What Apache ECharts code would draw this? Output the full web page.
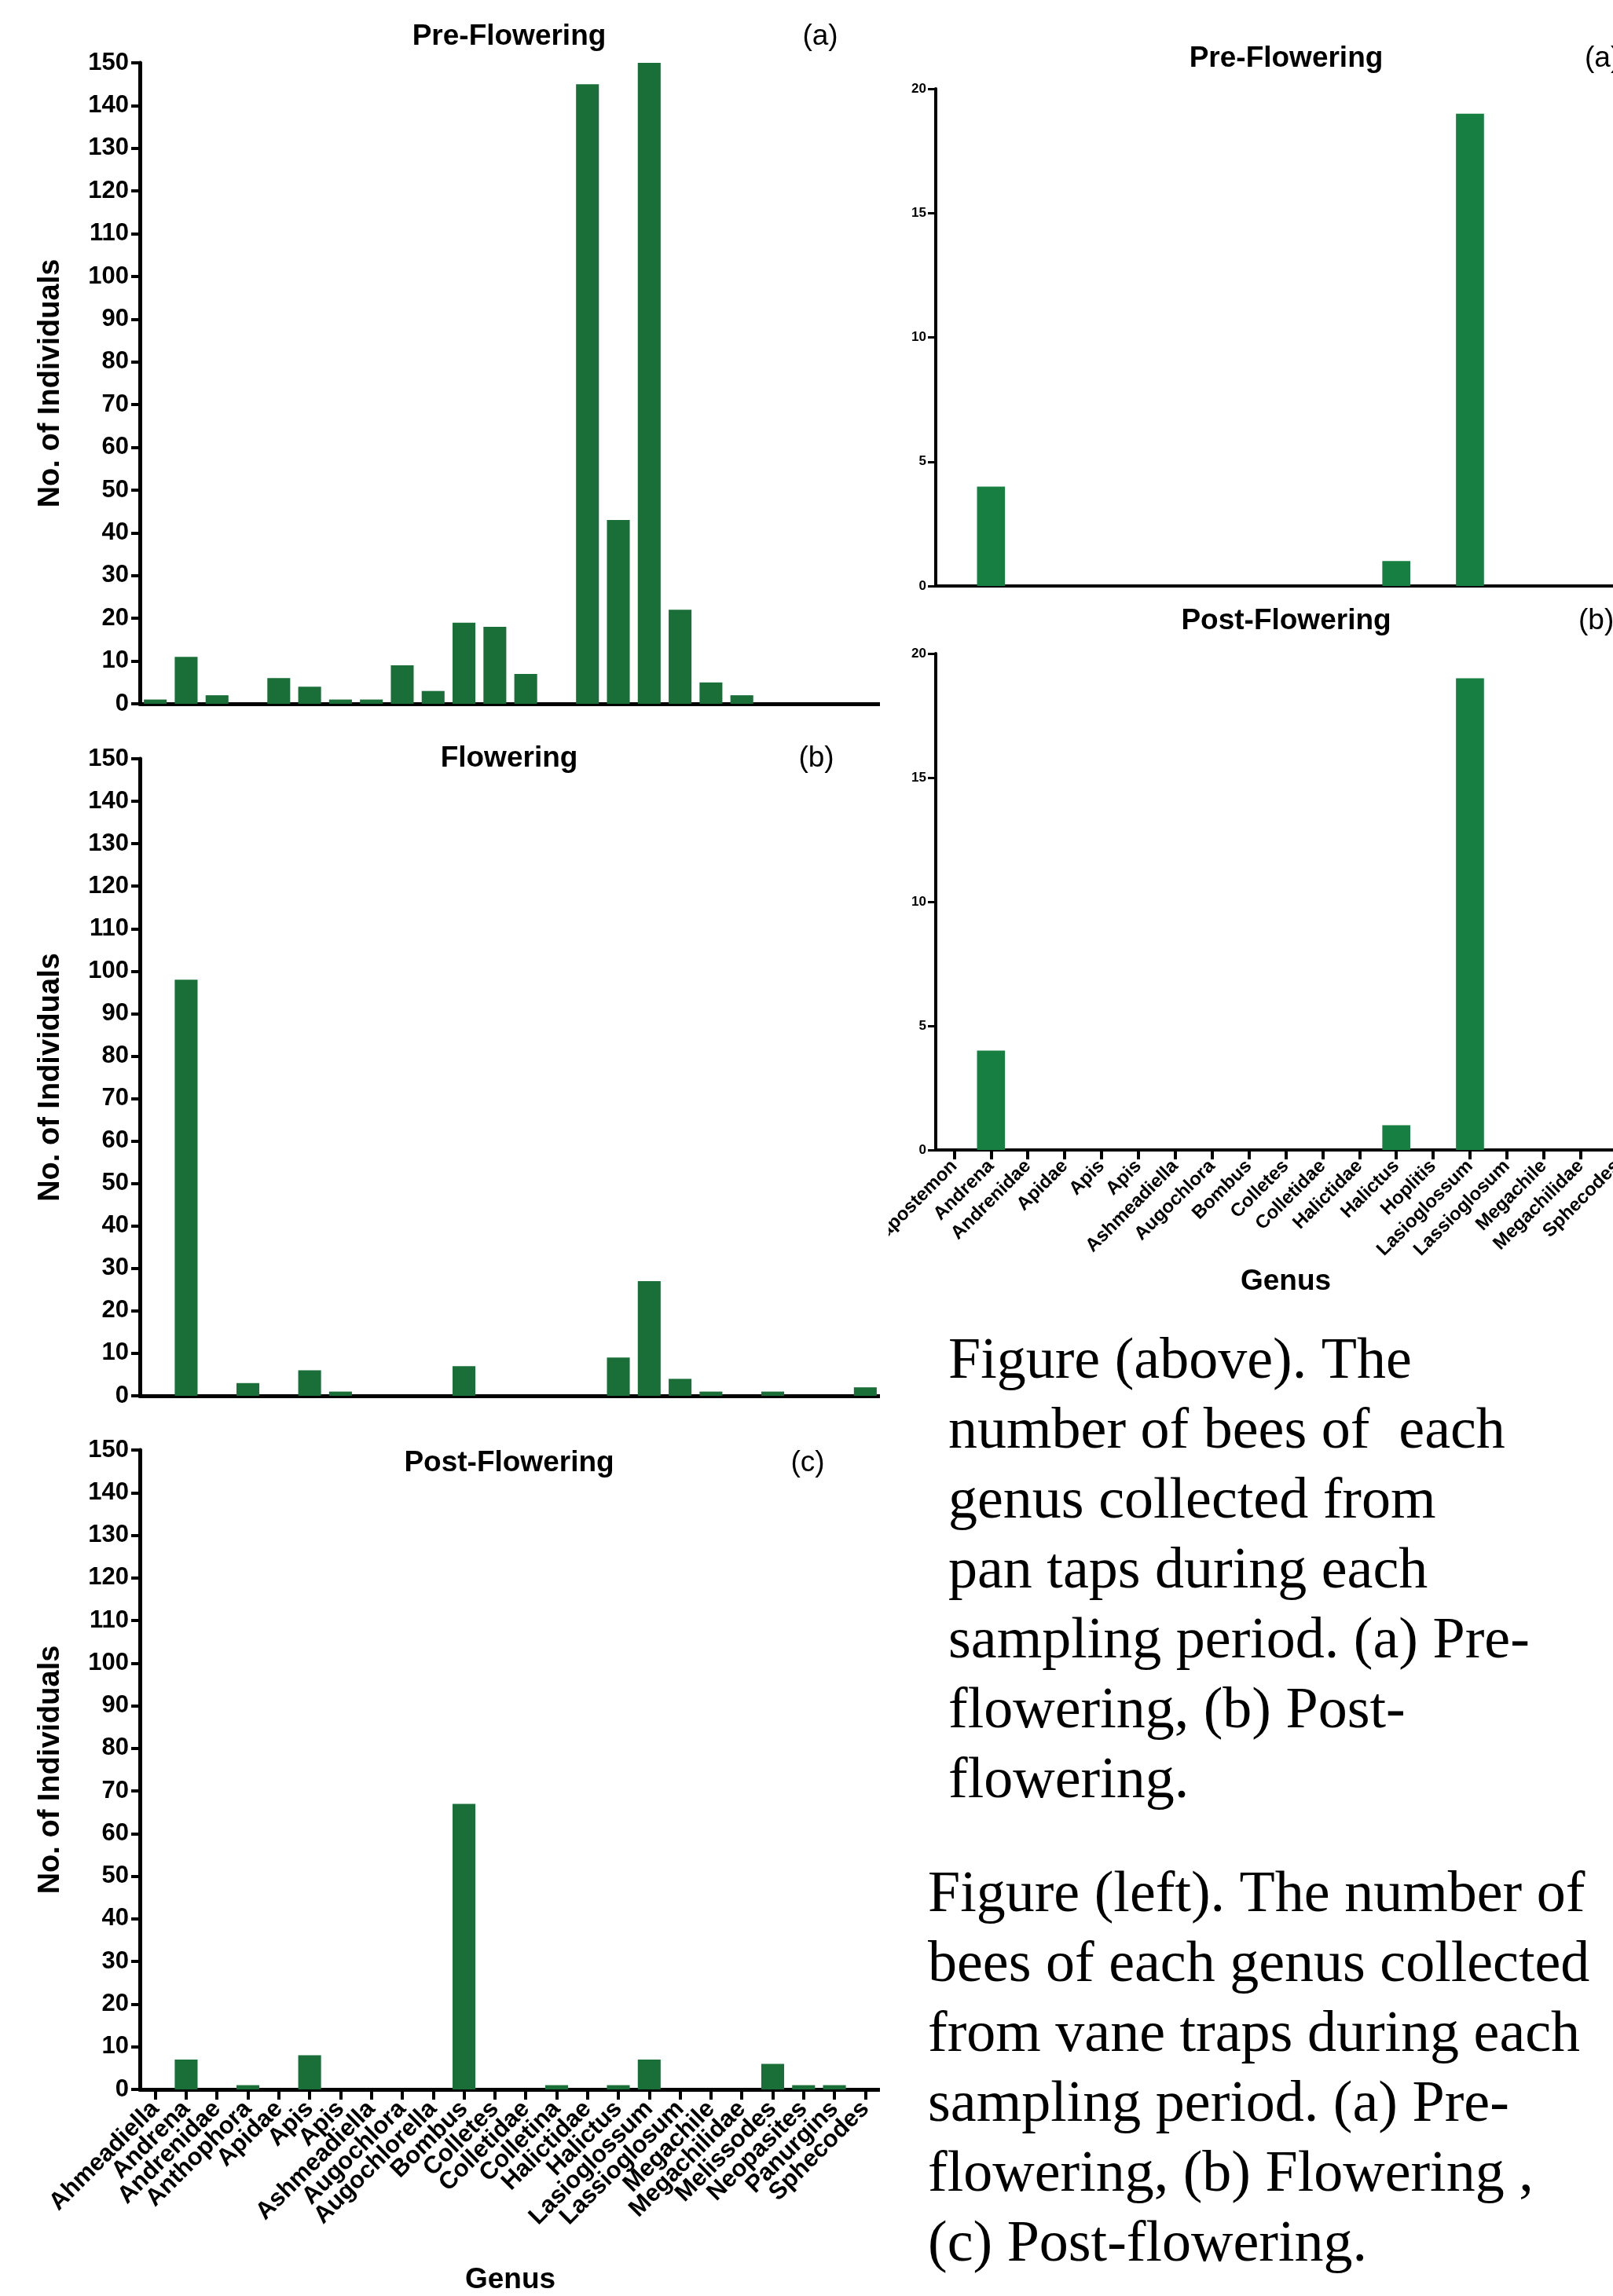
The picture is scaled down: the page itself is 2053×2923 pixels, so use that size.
<!DOCTYPE html>
<html>
<head>
<meta charset="utf-8">
<script src="https://cdn.jsdelivr.net/npm/echarts@6/dist/echarts.min.js"></script>
<style>
html,body{margin:0;padding:0;background:#fff;}
#left{position:absolute;left:0;top:0;width:1120px;height:2923px;}
#right{position:absolute;left:1131px;top:0;width:922px;height:2923px;}
</style>
</head>
<body>
<div id="left"></div>
<div id="right"></div>
<script>
// ---------- DATA ----------
const vaneGenus = ["Ahmeadiella","Andrena","Andrenidae","Anthophora","Apidae","Apis","Apis","Ashmeadiella","Augochlora","Augochlorella","Bombus","Colletes","Colletidae","Colletina","Halictidae","Halictus","Lasioglossum","Lassioglosum","Megachile","Megachilidae","Melissodes","Neopasites","Panurgins","Sphecodes"];
const vanePre  = [1,11,2,0,6,4,1,1,9,3,19,18,7,0,145,43,150,22,5,2,0,0,0,0];
const vaneFlow = [0,98,0,3,0,6,1,0,0,0,7,0,0,0,0,9,27,4,1,0,1,0,0,2];
const vanePost = [0,7,0,1,0,8,0,0,0,0,67,0,0,1,0,1,7,0,0,0,6,1,1,0];
const vaneTicks = [0,10,20,30,40,50,60,70,80,90,100,110,120,130,140,150];

const panGenus = ["Agapostemon","Andrena","Andrenidae","Apidae","Apis","Apis","Ashmeadiella","Augochlora","Bombus","Colletes","Colletidae","Halictidae","Halictus","Hoplitis","Lasioglossum","Lassioglosum","Megachile","Megachilidae","Sphecodes"];
const panPre  = [0,4,0,0,0,0,0,0,0,0,0,0,1,0,19,0,0,0,0];
const panPost = [0,4,0,0,0,0,0,0,0,0,0,0,1,0,19,0,0,0,0];
const panTicks = [0,5,10,15,20];

const leftTitles = ["Pre-Flowering","Flowering","Post-Flowering"];
const leftTags = ["(a)","(b)","(c)"];
const rightTitles = ["Pre-Flowering","Post-Flowering"];
const rightTags = ["(a)","(b)"];
const caption1 = ["Figure (above). The","number of bees of  each","genus collected from","pan taps during each","sampling period. (a) Pre-","flowering, (b) Post-","flowering."];
const caption2 = ["Figure (left). The number of","bees of each genus collected","from vane traps during each","sampling period. (a) Pre-","flowering, (b) Flowering ,","(c) Post-flowering."];

// ---------- STYLE ----------
const FONT = "'Liberation Sans', Arial, Helvetica, sans-serif";
const SERIF = "'Liberation Serif', 'Times New Roman', serif";
const LEFT_GREEN = '#1a6f38';
const RIGHT_GREEN = '#167f41';
const RX = 11; // right panel div offset correction

// ---------- LEFT FIGURE (vane traps) ----------
const leftGrids = [
  {left:178, width:943, top:80, height:816, outerBoundsMode:'none', containLabel:false},
  {left:178, width:943, top:966, height:811, outerBoundsMode:'none', containLabel:false},
  {left:178, width:943, top:1846, height:814, outerBoundsMode:'none', containLabel:false}
];
const leftData = [vanePre, vaneFlow, vanePost];

function leftX(i){
  const last = i === 2;
  return {
    type:'category', gridIndex:i, data:vaneGenus,
    axisLine:{lineStyle:{color:'#000', width:5}},
    axisTick:{show:last, alignWithLabel:true, length:13, lineStyle:{color:'#000', width:4}},
    axisLabel:{show:last, interval:0, rotate:45, margin:20, color:'#000', fontFamily:FONT, fontWeight:'bold', fontSize:31},
    name: last ? 'Genus' : '', nameLocation:'middle', nameGap:224,
    nameTextStyle:{color:'#000', fontFamily:FONT, fontWeight:'bold', fontSize:37}
  };
}
function leftY(i){
  return {
    type:'value', gridIndex:i, min:vaneTicks[0], max:vaneTicks[vaneTicks.length-1], interval:vaneTicks[1]-vaneTicks[0],
    splitLine:{show:false},
    axisLine:{show:true, lineStyle:{color:'#000', width:5}},
    axisTick:{show:true, length:11, lineStyle:{color:'#000', width:4}},
    axisLabel:{margin:14, color:'#000', fontFamily:FONT, fontWeight:'bold', fontSize:31},
    name:'No. of Individuals', nameLocation:'middle', nameGap:94,
    nameTextStyle:{color:'#000', fontFamily:FONT, fontWeight:'bold', fontSize:38}
  };
}
const leftTitleY = [47, 966, 1863];
const leftTagX = [1044, 1039, 1028];
const leftGraphic = [];
leftTitles.forEach((t,i)=>{
  leftGraphic.push({type:'text', x:648, y:leftTitleY[i], style:{text:t, fill:'#000', font:"bold 37px "+FONT, textAlign:'center', textVerticalAlign:'middle'}});
  leftGraphic.push({type:'text', x:leftTagX[i], y:leftTitleY[i], style:{text:leftTags[i], fill:'#000', font:"37px "+FONT, textAlign:'center', textVerticalAlign:'middle'}});
});

const leftChart = echarts.init(document.getElementById('left'), null, {renderer:'canvas'});
leftChart.setOption({
  backgroundColor:'#fff',
  animation:false,
  grid:leftGrids,
  xAxis:[0,1,2].map(leftX),
  yAxis:[0,1,2].map(leftY),
  series:leftData.map((d,i)=>({
    type:'bar', xAxisIndex:i, yAxisIndex:i, data:d, barWidth:'74%',
    itemStyle:{color:LEFT_GREEN}
  })),
  graphic:leftGraphic
});

// ---------- RIGHT FIGURE (pan traps) ----------
const rightGrids = [
  {left:71-RX, right:-29, top:113, height:633, outerBoundsMode:'none', containLabel:false},
  {left:71-RX, right:-29, top:832, height:632, outerBoundsMode:'none', containLabel:false}
];
const rightData = [panPre, panPost];
function rightX(i){
  const last = i === 1;
  return {
    type:'category', gridIndex:i, data:panGenus,
    axisLine:{lineStyle:{color:'#000', width:4}},
    axisTick:{show:last, alignWithLabel:true, length:12, lineStyle:{color:'#000', width:4}},
    axisLabel:{show:last, interval:0, rotate:45, margin:17, color:'#000', fontFamily:FONT, fontWeight:'bold', fontSize:24},
    name: last ? 'Genus' : '', nameLocation:'middle', nameGap:149,
    nameTextStyle:{color:'#000', fontFamily:FONT, fontWeight:'bold', fontSize:37}
  };
}
function rightY(i){
  return {
    type:'value', gridIndex:i, min:panTicks[0], max:panTicks[panTicks.length-1], interval:panTicks[1]-panTicks[0],
    splitLine:{show:false},
    axisLine:{show:true, lineStyle:{color:'#000', width:4}},
    axisTick:{show:true, length:10, lineStyle:{color:'#000', width:3}},
    axisLabel:{margin:12, color:'#000', fontFamily:FONT, fontWeight:'bold', fontSize:17}
  };
}
const rightTitleY = [75, 791];
const rightTagX = [897, 889];
const rightGraphic = [];
rightTitles.forEach((t,i)=>{
  rightGraphic.push({type:'text', x:517-RX, y:rightTitleY[i], style:{text:t, fill:'#000', font:"bold 37px "+FONT, textAlign:'center', textVerticalAlign:'middle'}});
  rightGraphic.push({type:'text', x:rightTagX[i]-RX, y:rightTitleY[i], style:{text:rightTags[i], fill:'#000', font:"37px "+FONT, textAlign:'left', textVerticalAlign:'middle'}});
});
rightGraphic.push({type:'text', x:87-RX, y:1690, style:{text:caption1.join('\n'), fill:'#000', font:"74px "+SERIF, lineHeight:89, textAlign:'left', textVerticalAlign:'top'}});
rightGraphic.push({type:'text', x:61-RX, y:2369, style:{text:caption2.join('\n'), fill:'#000', font:"74px "+SERIF, lineHeight:89, textAlign:'left', textVerticalAlign:'top'}});

const rightChart = echarts.init(document.getElementById('right'), null, {renderer:'canvas'});
rightChart.setOption({
  backgroundColor:'#fff',
  animation:false,
  grid:rightGrids,
  xAxis:[0,1].map(rightX),
  yAxis:[0,1].map(rightY),
  series:rightData.map((d,i)=>({
    type:'bar', xAxisIndex:i, yAxisIndex:i, data:d, barWidth:'76%',
    itemStyle:{color:RIGHT_GREEN}
  })),
  graphic:rightGraphic
});
</script>
</body>
</html>
